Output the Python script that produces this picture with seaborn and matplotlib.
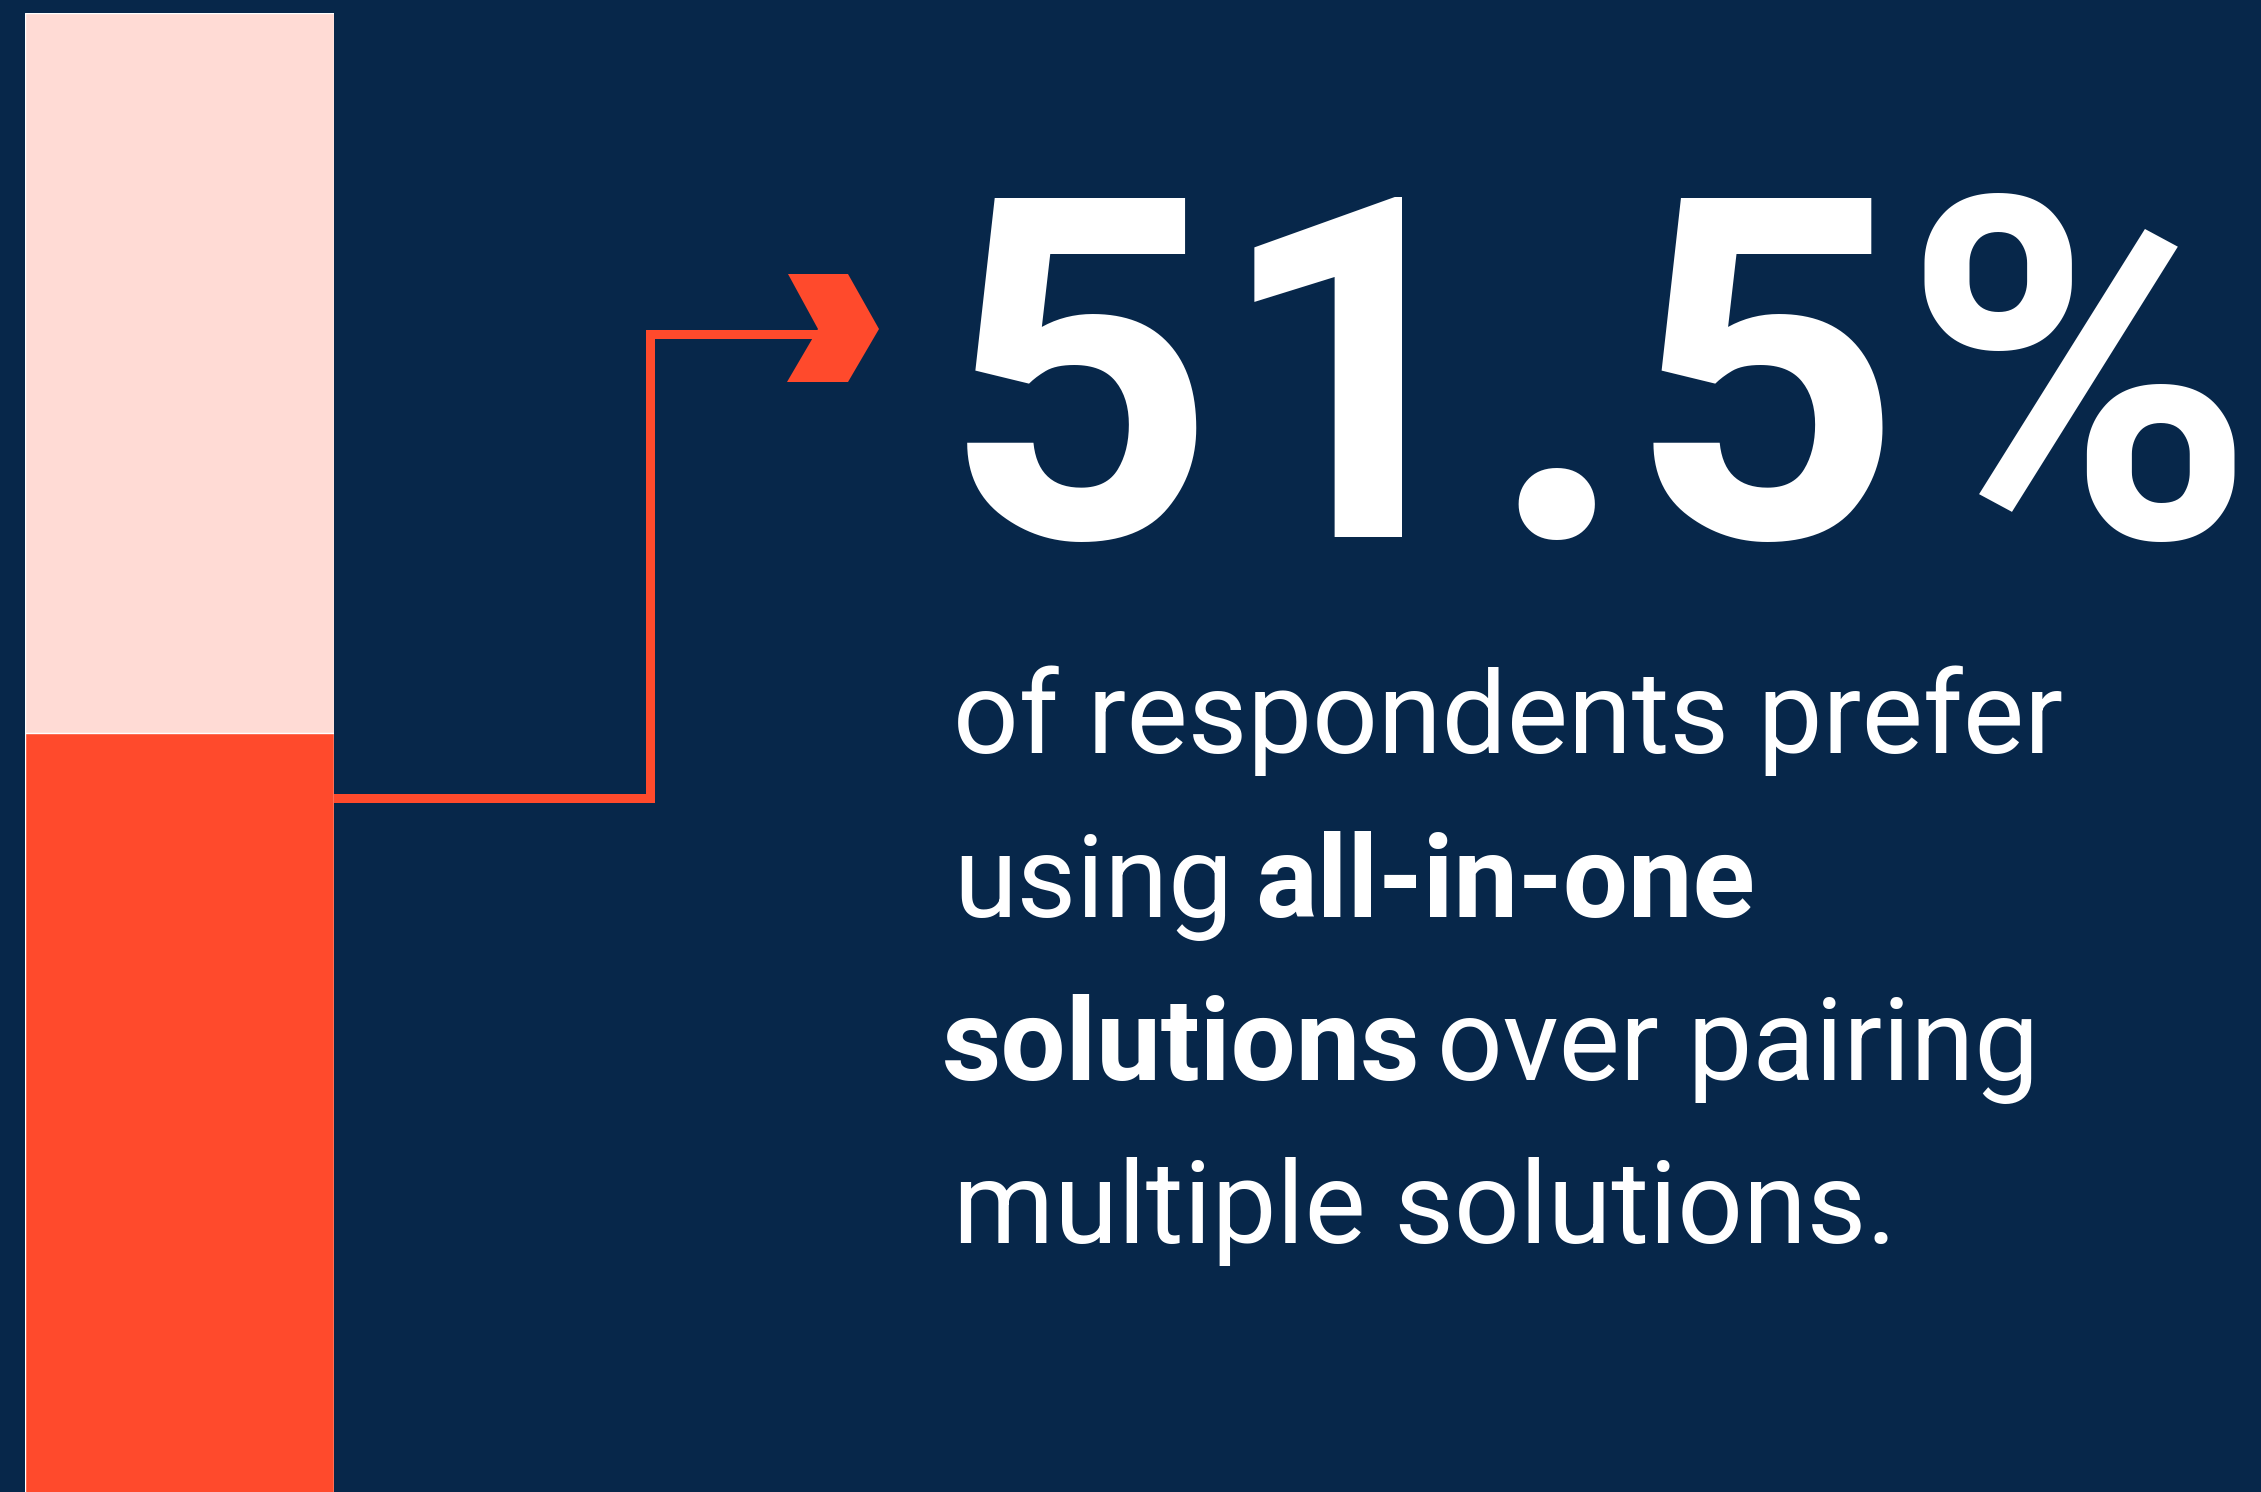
import matplotlib
matplotlib.use("Agg")
import matplotlib.pyplot as plt
import seaborn as sns
import pandas as pd
from matplotlib.patches import Polygon

# ---- data ----
categories = ["All-in-one solutions"]
share_pct = [51.5]
total_pct = [100]
line1 = "of respondents prefer"
line2_regular = "using"
line2_bold = "all-in-one"
line3_bold = "solutions"
line3_regular = "over pairing"
line4 = "multiple solutions."

NAVY = "#07274A"
PINK = "#FFDBD5"
RED = "#FF4A2C"
W, H = 2261, 1492

sns.set_theme(style="white")
plt.rcParams["font.family"] = ["Roboto", "DejaVu Sans"]

fig = plt.figure(figsize=(W / 100, H / 100), dpi=100, facecolor=NAVY)

# overlay axes in pixel coordinates for decorations/text
ax0 = fig.add_axes([0, 0, 1, 1])
ax0.set_xlim(0, W)
ax0.set_ylim(H, 0)
ax0.axis("off")
ax0.set_facecolor(NAVY)

# bar axes
left, right, top_px, zero_px = 25, 334, 13, 1497
axb = fig.add_axes([left / W, (H - zero_px) / H, (right - left) / W, (zero_px - top_px) / H])
axb.patch.set_alpha(0)
df_total = pd.DataFrame({"cat": categories, "val": total_pct})
df_share = pd.DataFrame({"cat": categories, "val": share_pct})
sns.barplot(data=df_total, x="cat", y="val", color=PINK, saturation=1, width=1, ax=axb)
sns.barplot(data=df_share, x="cat", y="val", color=RED, saturation=1, width=1, ax=axb)
axb.set_xlim(-0.5, 0.5)
axb.set_ylim(0, 100)
axb.axis("off")

# connector line + chevron
lw = 9 * 72 / 100
ax0.plot([333, 650, 650, 820], [798, 798, 334, 334], color=RED, lw=lw,
         solid_joinstyle="miter", solid_capstyle="butt")
ax0.add_patch(Polygon([(788, 274), (848, 274), (879, 329), (848, 382), (787, 382), (818, 329)],
                      closed=True, facecolor=RED, edgecolor="none"))

fig.canvas.draw()
renderer = fig.canvas.get_renderer()


def fit(t, target_w):
    w = t.get_window_extent(renderer).width
    t.set_fontsize(t.get_fontsize() * target_w / w)


def right_edge(t):
    fig.canvas.draw()
    return ax0.transData.inverted().transform((t.get_window_extent(renderer).x1, 0))[0]


# big number
big = ax0.text(942, 537, f"{share_pct[0]}%", color="white", fontsize=300,
               fontweight="bold", ha="left", va="baseline")
fit(big, 1314)

# body text
fs = 80
t1 = ax0.text(953, 753, line1, color="white", fontsize=fs, fontweight="normal",
              ha="left", va="baseline")
fit(t1, 1110)
fs = t1.get_fontsize()

t2a = ax0.text(953, 917, line2_regular, color="white", fontsize=fs, fontweight="normal",
               ha="left", va="baseline")
x = right_edge(t2a)
t2b = ax0.text(x + 22, 917, line2_bold, color="white", fontsize=fs, fontweight="bold",
               ha="left", va="baseline")

t3a = ax0.text(942, 1080, line3_bold, color="white", fontsize=fs, fontweight="bold",
               ha="left", va="baseline")
x = right_edge(t3a)
t3b = ax0.text(x + 16, 1080, line3_regular, color="white", fontsize=fs, fontweight="normal",
               ha="left", va="baseline")

t4 = ax0.text(953, 1243, line4, color="white", fontsize=fs, fontweight="normal",
              ha="left", va="baseline")

fig.savefig("out.png", dpi=100, facecolor=NAVY)
